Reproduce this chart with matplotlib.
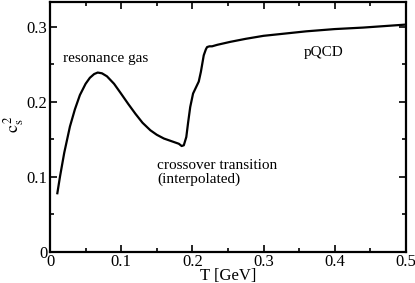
import matplotlib
matplotlib.use("Agg")
import matplotlib.pyplot as plt
from matplotlib.ticker import MultipleLocator

plt.rcParams['font.family'] = ['Liberation Serif', 'DejaVu Serif']
plt.rcParams['mathtext.fontset'] = 'stix'

# sound speed squared vs temperature
T = [0.0103, 0.014, 0.02, 0.028, 0.035, 0.042, 0.05, 0.056, 0.062, 0.067, 0.073,
     0.08, 0.09, 0.099, 0.11, 0.12, 0.13, 0.141, 0.15, 0.16, 0.169, 0.175,
     0.178, 0.181, 0.185, 0.188, 0.1915, 0.194, 0.197, 0.201, 0.205, 0.209,
     0.212, 0.216, 0.219, 0.2207, 0.224, 0.2277, 0.235, 0.2535, 0.275, 0.3,
     0.33, 0.36, 0.4, 0.44, 0.47, 0.5]
cs2 = [0.078, 0.100, 0.132, 0.167, 0.190, 0.209, 0.224, 0.232, 0.237, 0.239, 0.238,
       0.234, 0.224, 0.212, 0.197, 0.184, 0.172, 0.162, 0.156, 0.151, 0.148, 0.146,
       0.145, 0.144, 0.141, 0.142, 0.153, 0.172, 0.193, 0.211, 0.219, 0.227,
       0.24, 0.262, 0.27, 0.273, 0.274, 0.274, 0.276, 0.280, 0.284, 0.288,
       0.291, 0.294, 0.297, 0.299, 0.301, 0.303]

xticks = [0, 0.1, 0.2, 0.3, 0.4, 0.5]
xticklabels = ['0', '0.1', '0.2', '0.3', '0.4', '0.5']
yticks = [0, 0.1, 0.2, 0.3]
yticklabels = ['0', '0.1', '0.2', '0.3']

fig = plt.figure(figsize=(4.15, 2.83), dpi=100)
ax = fig.add_axes([0.1205, 0.1106, 0.8575, 0.882])
ax.plot(T, cs2, color='black', lw=1.6)

ax.set_xlim(0, 0.5)
ax.set_ylim(0, 0.333)
ax.xaxis.set_minor_locator(MultipleLocator(0.05))
ax.yaxis.set_minor_locator(MultipleLocator(0.05))
ax.set_xticks(xticks)
ax.set_xticklabels(xticklabels)
ax.set_yticks(yticks)
ax.set_yticklabels(yticklabels)
ax.tick_params(which='both', direction='in', top=True, right=True, labelsize=12)
ax.tick_params(axis='x', pad=1.5)
ax.tick_params(axis='y', pad=2)
ax.tick_params(which='major', length=5, width=1.2)
ax.tick_params(which='minor', length=3, width=1.2)
for s in ax.spines.values():
    s.set_linewidth(1.6)

ax.set_xlabel('T [GeV]', fontsize=12)
ax.xaxis.set_label_coords(0.5, -0.064)
ax.set_ylabel('$\\mathrm{c}_\\mathrm{s}^{\\,2}$', fontsize=13)
ax.yaxis.set_label_coords(-0.068, 0.51)

ax.text(0.0183, 0.2533, 'resonance gas', fontsize=11)
ax.text(0.1507, 0.110, 'crossover transition', fontsize=11)
ax.text(0.1507, 0.0916, '(interpolated)', fontsize=11)
ax.text(0.356, 0.261, 'pQCD', fontsize=11)

plt.savefig("out.png", dpi=100)
